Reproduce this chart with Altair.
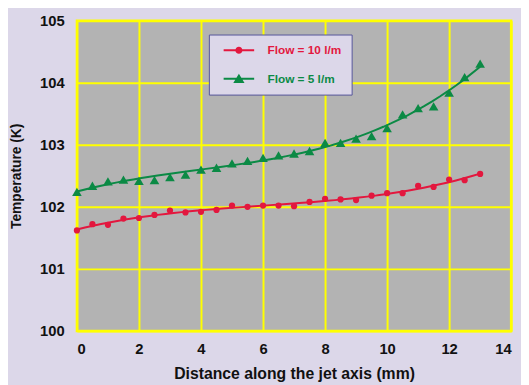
import altair as alt
import pandas as pd

# ---- data ----
series_names = ["Flow = 10 l/m", "Flow = 5 l/m"]
distance = [0, 0.5, 1, 1.5, 2, 2.5, 3, 3.5, 4, 4.5, 5, 5.5, 6, 6.5,
            7, 7.5, 8, 8.5, 9, 9.5, 10, 10.5, 11, 11.5, 12, 12.5, 13]
temp_flow10 = [101.62, 101.72, 101.71, 101.81, 101.82, 101.87, 101.94, 101.91, 101.92,
               101.95, 102.02, 102.00, 102.02, 102.02, 102.01, 102.08, 102.13, 102.12,
               102.11, 102.18, 102.22, 102.22, 102.34, 102.32, 102.44, 102.43, 102.53]
temp_flow5 = [102.24, 102.34, 102.41, 102.44, 102.42, 102.43, 102.48, 102.52, 102.60,
              102.63, 102.70, 102.74, 102.79, 102.83, 102.86, 102.90, 103.03, 103.03,
              103.10, 103.14, 103.27, 103.49, 103.59, 103.62, 103.84, 104.09, 104.31]
x_ticks = [0, 2, 4, 6, 8, 10, 12, 14]
y_ticks = [100, 101, 102, 103, 104, 105]

RED = "#e3173e"
GREEN = "#0b8a45"
BG = "#dcd7e9"
FONT = "Liberation Sans"

df = pd.concat([
    pd.DataFrame({"x": distance, "T": temp_flow10, "series": series_names[0]}),
    pd.DataFrame({"x": distance, "T": temp_flow5, "series": series_names[1]}),
], ignore_index=True)

x_enc = alt.X("x:Q", scale=alt.Scale(domain=[0, 14], nice=False),
              axis=alt.Axis(values=x_ticks, title="Distance along the jet axis (mm)",
                            labelPadding=11, titleY=43, titleBaseline="middle"))
y_enc = alt.Y("T:Q", scale=alt.Scale(domain=[100, 105], nice=False, zero=False),
              axis=alt.Axis(values=y_ticks, title="Temperature (K)",
                            labelPadding=13, titleX=-61, titleY=157.5,
                            titleBaseline="middle", titleAngle=270))
color_scale = alt.Scale(domain=series_names, range=[RED, GREEN])

base = alt.Chart(df)


def series_layers(name, col, shape, size):
    sub = base.transform_filter(alt.datum.series == name)
    line = sub.transform_regression("x", "T", method="poly", order=3).mark_line(
        strokeWidth=2, color=col
    ).encode(x=x_enc, y=y_enc)
    pts = sub.mark_point(shape=shape, filled=True, size=size, opacity=1, color=col).encode(
        x=x_enc, y=y_enc
    )
    return [line, pts]


layers = (series_layers(series_names[0], RED, "circle", 40)
          + series_layers(series_names[1], GREEN, "triangle-up", 95))

# legend glyphs: a line with the marker in its middle (unit = 6 px)
path_red = ("M-2.583,-0.167 L2.583,-0.167 L2.583,0.167 L-2.583,0.167 Z "
            "M-0.6,0 A0.6,0.6 0 1,1 0.6,0 A0.6,0.6 0 1,1 -0.6,0 Z")
path_green = ("M-2.583,-0.167 L2.583,-0.167 L2.583,0.167 L-2.583,0.167 Z "
              "M0,-0.85 L0.95,0.7 L-0.95,0.7 Z")

# legend only: no marks drawn (entries come from the explicit scale domain)
legend_layer = base.transform_filter("false").mark_point(filled=True, opacity=1).encode(
    x=x_enc, y=y_enc,
    color=alt.Color("series:N", scale=color_scale, legend=alt.Legend(
        title=None, orient="none", legendX=134, legendY=14,
        fillColor=BG, strokeColor="#55559a", padding=10,
        symbolSize=144, symbolStrokeWidth=0, symbolOpacity=1, symbolOffset=14.5,
        labelOffset=23, rowPadding=17,
        labelFont=FONT, labelFontSize=12, labelFontWeight="bold",
        labelColor=alt.ExprRef(expr=f"datum.label == '{series_names[0]}' ? '{RED}' : '{GREEN}'"),
    )),
    shape=alt.Shape("series:N", scale=alt.Scale(domain=series_names, range=[path_red, path_green])),
)

chart = alt.layer(*layers, legend_layer).properties(
    width=441, height=315,
    autosize=alt.AutoSizeParams(type="none"),
    padding={"left": 70, "top": 10, "right": 10, "bottom": 52},
    background=BG,
).configure_view(
    fill="#b3b3b3", stroke="#ffff00", strokeWidth=2.5
).configure_axis(
    grid=True, gridColor="#ffff00", gridWidth=2, gridOpacity=1,
    domain=False, ticks=False, tickSize=0,
    labelFont=FONT, labelFontSize=15, labelFontWeight="bold", labelColor="#111111",
    titleFont=FONT, titleFontSize=14, titleFontWeight="bold", titleColor="#111111",
).configure_axisX(titleFontSize=16)

chart.save("out.html", embed_options={"renderer": "svg", "actions": False})
